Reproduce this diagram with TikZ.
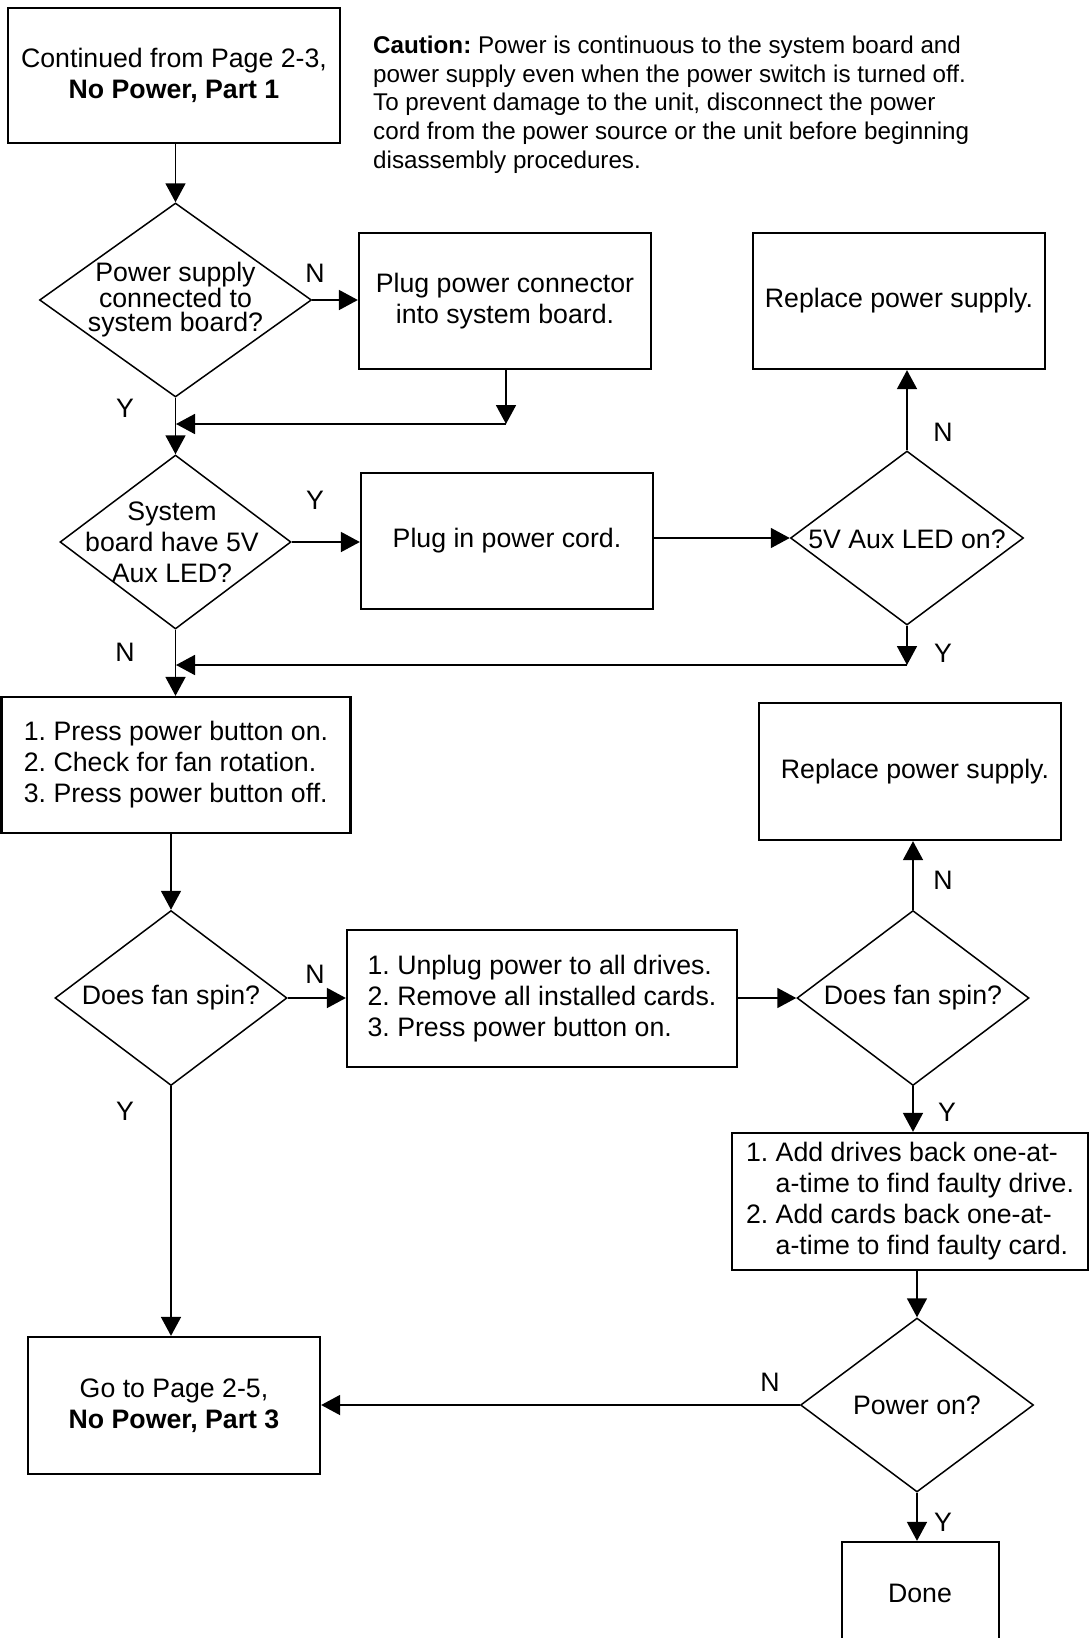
\documentclass[tikz,border=0pt]{standalone}
\usepackage{fontspec}
\setmainfont{Liberation Sans}
\usetikzlibrary{shapes.geometric,arrows.meta}
\begin{document}
\frenchspacing
\begin{tikzpicture}[x=1pt,y=-1pt,
  every node/.style={font=\fontsize{26.7}{31}\selectfont},
  pbox/.style={draw,line width=2.3pt,inner sep=0pt,align=center},
  dec/.style={diamond,draw,line width=1.5pt,inner sep=0pt},
  arr/.style={line width=1.8pt,-{Triangle[length=19pt,width=20pt]}},
  lab/.style={inner sep=0pt}
]
\useasboundingbox (0,0) rectangle (1089,1638);
\clip (0,0) rectangle (1089,1638);

% boxes
\node[pbox,minimum width=332pt,minimum height=135pt] (start) at (174,75.5)
  {Continued from Page 2-3,\\\textbf{No Power, Part 1}};
\node[pbox,minimum width=292pt,minimum height=136pt] (b2) at (505,301)
  {Plug power connector\\into system board.};
\node[pbox,minimum width=292pt,minimum height=136pt] (b4) at (899,301)
  {Replace power supply.};
\node[pbox,minimum width=292pt,minimum height=136pt] (b3) at (507,541)
  {Plug in power cord.};
\node[pbox,minimum width=349pt,minimum height=136pt,align=left] (b5) at (176,765)
  {1. Press power button on.\\2. Check for fan rotation.\\3. Press power button off.};
\node[pbox,minimum width=302pt,minimum height=137pt] (b7) at (910,771.5)
  {\hspace*{10pt}Replace power supply.};
\node[pbox,minimum width=390pt,minimum height=137pt,align=left] (b6) at (542,998.5)
  {1. Unplug power to all drives.\\2. Remove all installed cards.\\3. Press power button on.};
\node[pbox,minimum width=356pt,minimum height=137pt,align=left] (b8) at (910,1201.5)
  {1. Add drives back one-at-\\\phantom{1. }a-time to find faulty drive.\\2. Add cards back one-at-\\\phantom{2. }a-time to find faulty card.};
\node[pbox,minimum width=292pt,minimum height=137pt] (b9) at (174,1405.5)
  {Go to Page 2-5,\\\textbf{No Power, Part 3}};
\node[pbox,minimum width=157pt,minimum height=120pt] (b10) at (920.5,1602)
  {};
\node[lab] (donet) at (920,1593) {Done};

% caution
\node[lab,anchor=north west,align=left,font=\fontsize{24.2}{28.8}\selectfont] (caution) at (373,35.5)
  {\textbf{Caution:} Power is continuous to the system board and\\
   power supply even when the power switch is turned off.\\
   To prevent damage to the unit, disconnect the power\\
   cord from the power source or the unit before beginning\\
   disassembly procedures.};

% diamonds
\node[dec,minimum width=272pt,minimum height=194pt] (d1) at (175.5,300) {};
\node[lab,align=center,font=\fontsize{26.7}{24}\selectfont] (d1t) at (d1.center) {Power supply\\connected to\\system board?};
\node[dec,minimum width=231pt,minimum height=174pt] (d2) at (175.5,542) {};
\node[lab,align=center] (d2t) at (172,542) {System\\board have 5V\\Aux LED?};
\node[dec,minimum width=233pt,minimum height=174pt] (d3) at (907,538) {};
\node[lab] (d3t) at (907,539) {5V Aux LED on?};
\node[dec,minimum width=232pt,minimum height=175pt] (d4) at (171,998) {};
\node[lab] (d4t) at (171,998) {Does fan spin?};
\node[dec,minimum width=232pt,minimum height=175pt] (d5) at (913,998) {};
\node[lab] (d5t) at (913,998) {Does fan spin?};
\node[dec,minimum width=233pt,minimum height=174pt] (d6) at (917,1405) {};
\node[lab] (d6t) at (917,1405) {Power on?};

% labels
\node[lab] (n1) at (315,273) {N};
\node[lab] (y1) at (125,408) {Y};
\node[lab] (y2) at (315,500) {Y};
\node[lab] (n3) at (943,432) {N};
\node[lab] (y3) at (943,653) {Y};
\node[lab] (n2) at (125,652) {N};
\node[lab] (n4) at (315,974) {N};
\node[lab] (n5) at (943,880) {N};
\node[lab] (y5) at (947,1112) {Y};
\node[lab] (y4) at (125,1111) {Y};
\node[lab] (n6) at (770,1382) {N};
\node[lab] (y6) at (943,1522) {Y};

% coordinates
\coordinate (c1) at (506,424);
\coordinate (m1) at (176,424);
\coordinate (c2) at (907,665);
\coordinate (m2) at (176,665);

% connectors
\draw[arr] (d1.north |- start.south) -- (d1.north);
\draw[arr] (d1.east) -- (d1.east -| b2.west);
\draw[arr] (c1 |- b2.south) -- (c1);
\draw[arr] (c1) -- (m1);
\draw[arr] (d1.south) -- (d2.north);
\draw[arr] (d2.east) -- (d2.east -| b3.west);
\draw[arr] (b3.east |- d3.west) -- (d3.west);
\draw[arr] (d3.north) -- (d3.north |- b4.south);
\draw[arr] (d3.south) -- (c2);
\draw[arr] (c2) -- (m2);
\draw[arr] (d2.south) -- (d2.south |- b5.north);
\draw[arr] (d4.north |- b5.south) -- (d4.north);
\draw[arr] (d4.east) -- (d4.east -| b6.west);
\draw[arr] (b6.east |- d5.west) -- (d5.west);
\draw[arr] (d5.north) -- (d5.north |- b7.south);
\draw[arr] (d5.south) -- (d5.south |- b8.north);
\draw[arr] (d6.north |- b8.south) -- (d6.north);
\draw[arr] (d6.west) -- (d6.west -| b9.east);
\draw[arr] (d4.south) -- (d4.south |- b9.north);
\draw[arr] (d6.south) -- (d6.south |- b10.north);
\end{tikzpicture}
\end{document}
